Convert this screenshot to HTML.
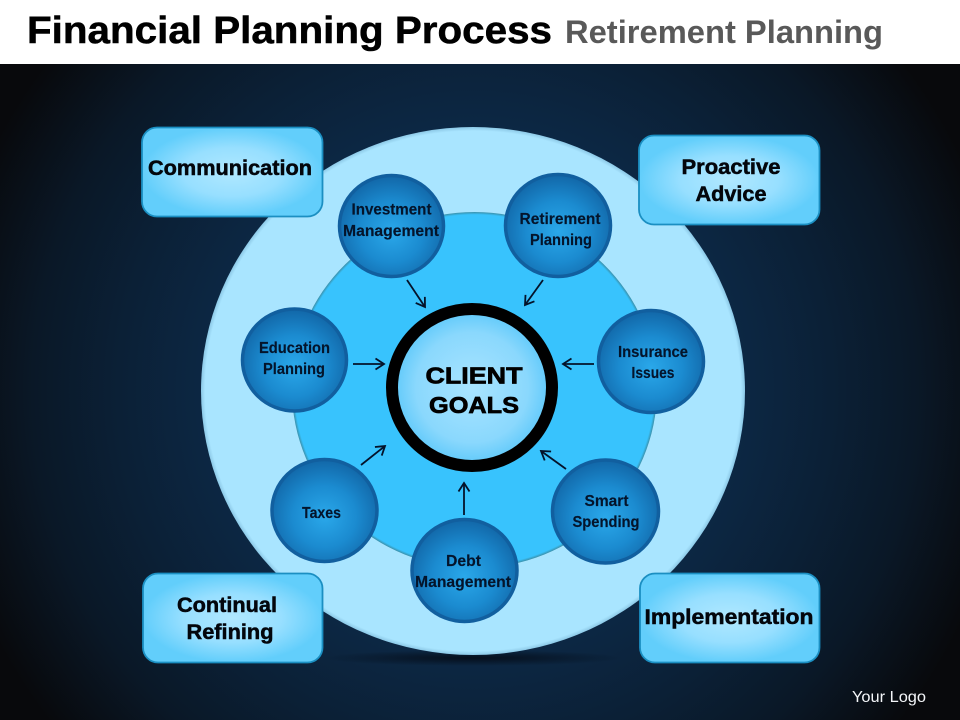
<!DOCTYPE html>
<html><head><meta charset="utf-8"><style>
html,body{margin:0;padding:0;background:#fff}
svg{display:block}
text{font-family:"Liberation Sans",sans-serif;font-weight:700;text-anchor:middle}
.b{font-size:21px;fill:#03060c;stroke:#03060c;stroke-width:.5}
.s{font-size:15.5px;fill:#04142b;stroke:#04142b;stroke-width:.15}
</style></head><body>
<svg width="960" height="720" viewBox="0 0 960 720" xmlns="http://www.w3.org/2000/svg">
<defs>
<radialGradient id="bg" gradientUnits="userSpaceOnUse" cx="475" cy="390" r="540">
<stop offset="0" stop-color="#123a62"/><stop offset=".5" stop-color="#0c2743"/><stop offset=".66" stop-color="#0b2036"/><stop offset=".82" stop-color="#0a1827"/><stop offset="1" stop-color="#08090c"/></radialGradient>
<radialGradient id="big"><stop offset="0" stop-color="#a9e5ff"/><stop offset=".985" stop-color="#a9e5ff"/><stop offset="1" stop-color="#8cc8e6"/></radialGradient>
<radialGradient id="inner"><stop offset="0" stop-color="#38c3fd"/><stop offset=".985" stop-color="#38c3fd"/><stop offset="1" stop-color="#3a8fa8"/></radialGradient>
<radialGradient id="node" cx=".5" cy=".56" r=".55"><stop offset="0" stop-color="#2aa8ea"/><stop offset=".55" stop-color="#1b8bd0"/><stop offset="1" stop-color="#1268a9"/></radialGradient>
<radialGradient id="core"><stop offset="0" stop-color="#a9e4ff"/><stop offset=".7" stop-color="#8ad8fd"/><stop offset="1" stop-color="#5cc8fa"/></radialGradient>
<radialGradient id="box"><stop offset="0" stop-color="#b0e8ff"/><stop offset=".55" stop-color="#97dfff"/><stop offset="1" stop-color="#62cefb"/></radialGradient>
<radialGradient id="shadow"><stop offset="0" stop-color="#040a14" stop-opacity=".85"/><stop offset="1" stop-color="#040a14" stop-opacity="0"/></radialGradient>
<marker id="a" viewBox="0 0 14 14" refX="12.500" refY="7" markerWidth="14" markerHeight="14" markerUnits="userSpaceOnUse" orient="auto"><path d="M4 1.500 L12.500 7 L4 12.500" fill="none" stroke="#04132a" stroke-width="1.800"/></marker>
</defs>

<rect width="960" height="720" fill="#fff"/>
<rect y="64" width="960" height="656" fill="url(#bg)"/>

<text x="27" y="43" style="text-anchor:start;font-size:38px" fill="#000" stroke="#000" stroke-width=".5" textLength="525" lengthAdjust="spacingAndGlyphs">Financial Planning Process</text>
<text x="565" y="43" style="text-anchor:start;font-size:32px" fill="#595959" textLength="318" lengthAdjust="spacingAndGlyphs">Retirement Planning</text>

<ellipse cx="473" cy="658" rx="150" ry="8" fill="url(#shadow)"/>
<ellipse cx="473" cy="391" rx="272" ry="264" fill="url(#big)"/>
<ellipse cx="474.500" cy="390" rx="182.500" ry="178" fill="url(#inner)"/>

<ellipse cx="472" cy="387.500" rx="80" ry="78.500" fill="url(#core)" stroke="#000" stroke-width="12"/>
<text x="474" y="383.500" style="font-size:23px" fill="#000" stroke="#000" stroke-width=".7" textLength="97" lengthAdjust="spacingAndGlyphs">CLIENT</text>
<text x="474" y="413" style="font-size:23px" fill="#000" stroke="#000" stroke-width=".7" textLength="90" lengthAdjust="spacingAndGlyphs">GOALS</text>

<g fill="url(#node)" stroke="#115f9f" stroke-width="3.500">
<ellipse cx="391.500" cy="226" rx="52" ry="50.500"/>
<ellipse cx="558" cy="225.500" rx="52.500" ry="51"/>
<ellipse cx="294.500" cy="360" rx="52" ry="51"/>
<ellipse cx="651" cy="361.500" rx="52.500" ry="51"/>
<ellipse cx="324.500" cy="510.500" rx="52.500" ry="51"/>
<ellipse cx="464.500" cy="570.500" rx="52.500" ry="51"/>
<ellipse cx="605.500" cy="511.500" rx="53" ry="51.500"/>
</g>

<text class="s" x="391.500" y="214.500" textLength="80" lengthAdjust="spacingAndGlyphs">Investment</text>
<text class="s" x="391" y="236" textLength="96" lengthAdjust="spacingAndGlyphs">Management</text>
<text class="s" x="560" y="224" textLength="81" lengthAdjust="spacingAndGlyphs">Retirement</text>
<text class="s" x="561" y="245" textLength="62" lengthAdjust="spacingAndGlyphs">Planning</text>
<text class="s" x="294.500" y="353" textLength="71" lengthAdjust="spacingAndGlyphs">Education</text>
<text class="s" x="294" y="374" textLength="62" lengthAdjust="spacingAndGlyphs">Planning</text>
<text class="s" x="653" y="357" textLength="70" lengthAdjust="spacingAndGlyphs">Insurance</text>
<text class="s" x="653" y="378" textLength="43" lengthAdjust="spacingAndGlyphs">Issues</text>
<text class="s" x="321.500" y="518" textLength="39" lengthAdjust="spacingAndGlyphs">Taxes</text>
<text class="s" x="463.500" y="566" textLength="35" lengthAdjust="spacingAndGlyphs">Debt</text>
<text class="s" x="463" y="587" textLength="96" lengthAdjust="spacingAndGlyphs">Management</text>
<text class="s" x="606.500" y="506" textLength="44" lengthAdjust="spacingAndGlyphs">Smart</text>
<text class="s" x="606" y="527" textLength="67" lengthAdjust="spacingAndGlyphs">Spending</text>

<g stroke="#04132a" stroke-width="1.800" fill="none">
<line x1="407" y1="280" x2="425" y2="307" marker-end="url(#a)"/>
<line x1="543" y1="280" x2="525" y2="305" marker-end="url(#a)"/>
<line x1="353" y1="364" x2="384" y2="364" marker-end="url(#a)"/>
<line x1="594" y1="364" x2="563" y2="364" marker-end="url(#a)"/>
<line x1="361" y1="465" x2="385" y2="446" marker-end="url(#a)"/>
<line x1="464" y1="515" x2="464" y2="483" marker-end="url(#a)"/>
<line x1="566" y1="469" x2="541" y2="451" marker-end="url(#a)"/>
</g>

<g fill="url(#box)" stroke="#1b8fc2" stroke-width="1.800">
<rect x="142" y="127.500" width="180.500" height="89" rx="15"/>
<rect x="639" y="135.500" width="180.500" height="89" rx="15"/>
<rect x="143" y="573.500" width="179.500" height="89" rx="15"/>
<rect x="640" y="573.500" width="179.500" height="89" rx="15"/>
</g>

<text class="b" x="230" y="175" textLength="164" lengthAdjust="spacingAndGlyphs">Communication</text>
<text class="b" x="731" y="174" textLength="99" lengthAdjust="spacingAndGlyphs">Proactive</text>
<text class="b" x="731" y="201" textLength="71" lengthAdjust="spacingAndGlyphs">Advice</text>
<text class="b" x="227" y="612" textLength="100" lengthAdjust="spacingAndGlyphs">Continual</text>
<text class="b" x="230" y="639" textLength="87" lengthAdjust="spacingAndGlyphs">Refining</text>
<text class="b" x="729" y="624" textLength="169" lengthAdjust="spacingAndGlyphs">Implementation</text>

<text x="889" y="702" style="font-size:15.5px;font-weight:400" fill="#f4f6f9" textLength="74" lengthAdjust="spacingAndGlyphs">Your Logo</text>
</svg>
</body></html>
